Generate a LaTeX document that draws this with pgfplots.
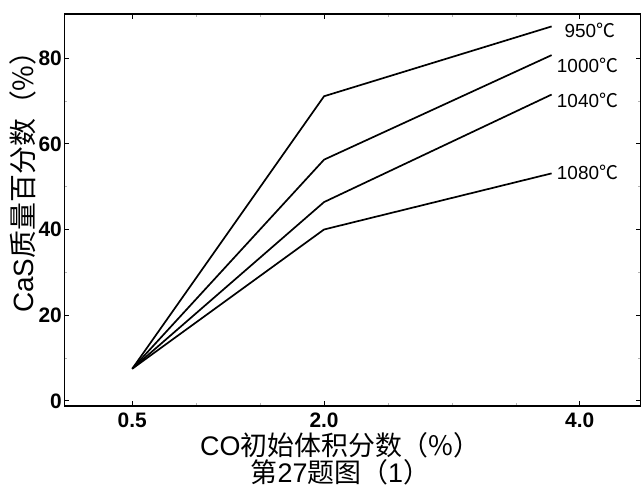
\documentclass[border=0pt]{standalone}
\usepackage{fontspec}
\setmainfont{Liberation Sans}
\newfontfamily\cjk{Noto Sans CJK SC}
\usepackage{pgfplots}
\pgfplotsset{compat=1.18}
\begin{document}
\begin{tikzpicture}
\path[use as bounding box] (-64.5bp,-85.5bp) rectangle (579.5bp,406bp);
\begin{axis}[
  at={(0,0)}, anchor=south west,
  scale only axis, width=576bp, height=392bp,
  xmin=-0.03, xmax=4.475, ymin=-1.2, ymax=90.3,
  axis line style={line width=1.4bp},
  xtick={0.5,2,4}, xticklabels={0.5,2.0,4.0},
  minor xtick={1,1.5,2.5,3,3.5},
  ytick={0,20,40,60,80},
  minor ytick={10,30,50,70},
  xtick pos=both, ytick pos=both,
  tick align=inside,
  major tick length=5bp, minor tick length=3bp,
  major tick style={line width=1bp, black},
  minor tick style={line width=0.6bp, gray!60},
  /pgf/number format/assume math mode=true,
  tick label style={font=\fontsize{21}{24}\selectfont\bfseries},
  yticklabel style={inner sep=2.5bp},
  xticklabel style={inner sep=7bp},
  xticklabel pos=bottom, yticklabel pos=left,
  xlabel={CO{\cjk 初始体积分数（\%）}\\{\cjk 第}27{\cjk 题图（}1{\cjk ）}},
  xlabel style={at={(axis description cs:0.479,-0.134)}, anchor=center,
    align=center, font=\fontsize{27}{27}\selectfont},
  ylabel={CaS{\cjk 质量百分数（\%）}},
  ylabel style={at={(axis description cs:-0.073,0.589)}, anchor=center,
    font=\fontsize{28}{30}\selectfont},
  clip=false,
]
\addplot[black, line width=1.7bp] coordinates {(0.5,7.5) (2.0,71.1) (3.78,87.4)};
\addplot[black, line width=1.7bp] coordinates {(0.5,7.5) (2.0,56.3) (3.78,80.7)};
\addplot[black, line width=1.7bp] coordinates {(0.5,7.5) (2.0,46.4) (3.78,71.5)};
\addplot[black, line width=1.7bp] coordinates {(0.5,7.5) (2.0,40.0) (3.78,53.1)};
\node[anchor=west, inner sep=0, font=\fontsize{19}{21}\selectfont] at (axis cs:3.88,86.5) {950{\cjk ℃}};
\node[anchor=west, inner sep=0, font=\fontsize{19}{21}\selectfont] at (axis cs:3.82,78.3) {1000{\cjk ℃}};
\node[anchor=west, inner sep=0, font=\fontsize{19}{21}\selectfont] at (axis cs:3.82,70.1) {1040{\cjk ℃}};
\node[anchor=west, inner sep=0, font=\fontsize{19}{21}\selectfont] at (axis cs:3.82,53.4) {1080{\cjk ℃}};
\end{axis}
\end{tikzpicture}
\end{document}
